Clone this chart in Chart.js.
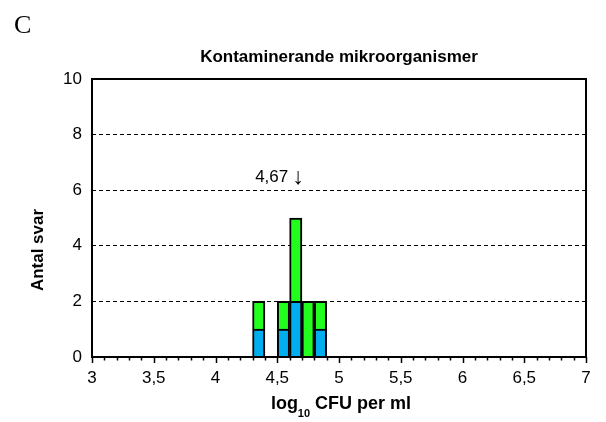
<!DOCTYPE html>
<html>
<head>
<meta charset="utf-8">
<script src="https://cdn.jsdelivr.net/npm/chart.js@4/dist/chart.umd.min.js"></script>
<style>
  html, body { margin: 0; padding: 0; background: #fff; }
  #wrap { width: 606px; height: 422px; position: relative; }
</style>
</head>
<body>
<div id="wrap"><canvas id="histChart" width="606" height="422"></canvas></div>
<script>
/* histogram data, bins of 0.1 log units */
const binCenters = [4.35, 4.55, 4.65, 4.75, 4.85];
const blueCounts = [1, 1, 2, 0, 1];
const greenCounts = [1, 1, 3, 2, 1];

const panelLetter = "C";
const chartTitle = "Kontaminerande mikroorganismer";
const yTitle = "Antal svar";
const medianValue = 4.67;
const medianLabel = "4,67";

const FONT = "Arial, 'Liberation Sans', sans-serif";

function toPoints(values) {
    return binCenters.map((x, i) => ({ x: x, y: values[i] }));
}

// frame, x tick marks, titles and the median note
const decorations = {
    id: "decorations",
    afterDraw(chart) {
        const ctx = chart.ctx;
        const area = chart.chartArea;
        const xs = chart.scales.x;
        const ys = chart.scales.y;
        ctx.save();

        // frame
        ctx.strokeStyle = "#000";
        ctx.lineWidth = 2;
        ctx.strokeRect(area.left, area.top, area.right - area.left, area.bottom - area.top);

        // x tick marks (major every 0.5, minor every 0.1)
        ctx.lineWidth = 1.5;
        xs.ticks.forEach(t => {
            const px = Math.round(xs.getPixelForValue(t.value)) + 0.5;
            const major = Math.abs(t.value * 2 - Math.round(t.value * 2)) < 1e-6;
            ctx.beginPath();
            ctx.moveTo(px, area.bottom);
            ctx.lineTo(px, area.bottom + (major ? 6 : 3.5));
            ctx.stroke();
        });

        ctx.fillStyle = "#000";

        // panel letter
        ctx.font = "26px 'Liberation Serif', 'Times New Roman', serif";
        ctx.textAlign = "left";
        ctx.textBaseline = "alphabetic";
        ctx.fillText(panelLetter, 14, 33);

        // chart title
        ctx.font = "bold 17px " + FONT;
        ctx.textAlign = "center";
        ctx.fillText(chartTitle, (area.left + area.right) / 2, 62);

        // y title
        ctx.save();
        ctx.translate(43, 250);
        ctx.rotate(-Math.PI / 2);
        ctx.font = "bold 17px " + FONT;
        ctx.textAlign = "center";
        ctx.fillText(yTitle, 0, 0);
        ctx.restore();

        // x title with subscript
        const parts = [
            { text: "log", font: "bold 18px " + FONT, dy: 0 },
            { text: "10", font: "bold 11px " + FONT, dy: 8 },
            { text: " CFU per ml", font: "bold 18px " + FONT, dy: 0 }
        ];
        let total = 0;
        parts.forEach(p => { ctx.font = p.font; p.w = ctx.measureText(p.text).width; total += p.w; });
        let cx = (area.left + area.right) / 2 + 2 - total / 2;
        ctx.textAlign = "left";
        parts.forEach(p => {
            ctx.font = p.font;
            ctx.fillText(p.text, cx, 409 + p.dy);
            cx += p.w;
        });

        // median note
        const mx = xs.getPixelForValue(medianValue);
        const my = ys.getPixelForValue(6.45);
        ctx.font = "17px " + FONT;
        ctx.textBaseline = "middle";
        ctx.textAlign = "right";
        ctx.fillText(medianLabel, mx - 10, my);
        ctx.textAlign = "center";
        ctx.font = "23px " + FONT;
        ctx.fillText("\u2193", mx, my);

        ctx.restore();
    }
};

const ctx = document.getElementById("histChart").getContext("2d");

new Chart(ctx, {
    type: "bar",
    data: {
        datasets: [
            {
                label: "blue",
                data: toPoints(blueCounts),
                backgroundColor: "#00AEEF",
                borderColor: "#000",
                borderWidth: c => (c.raw && c.raw.y ? 2 : 0),
                barPercentage: 1,
                categoryPercentage: 1
            },
            {
                label: "green",
                data: toPoints(greenCounts),
                backgroundColor: "#22FF1E",
                borderColor: "#000",
                borderWidth: c => (c.raw && c.raw.y ? 2 : 0),
                barPercentage: 1,
                categoryPercentage: 1
            }
        ]
    },
    options: {
        responsive: false,
        animation: false,
        devicePixelRatio: 1,
        layout: { padding: { top: 79, right: 20, left: 0, bottom: 0 } },
        plugins: {
            legend: { display: false },
            tooltip: { enabled: false },
            title: { display: false }
        },
        scales: {
            x: {
                type: "linear",
                stacked: true,
                offset: false,
                min: 3,
                max: 7,
                grid: { display: false, drawTicks: false, offset: false },
                border: { display: false },
                afterFit: s => { s.height = 65; },
                ticks: {
                    stepSize: 0.1,
                    autoSkip: false,
                    maxRotation: 0,
                    padding: 11,
                    color: "#000",
                    font: { family: FONT, size: 17 },
                    callback: v => {
                        if (Math.abs(v * 2 - Math.round(v * 2)) > 1e-6) return "";
                        return String(Math.round(v * 2) / 2).replace(".", ",");
                    }
                }
            },
            y: {
                stacked: true,
                min: 0,
                max: 10,
                grid: {
                    drawTicks: false,
                    color: c => (c.tick.value > 0 && c.tick.value < 10 ? "#000" : "rgba(0,0,0,0)"),
                    lineWidth: 1
                },
                border: { display: false, dash: [4, 3] },
                afterFit: s => { s.width = 92; },
                ticks: {
                    stepSize: 2,
                    padding: 10,
                    color: "#000",
                    font: { family: FONT, size: 17 }
                }
            }
        }
    },
    plugins: [decorations]
});
</script>
</body>
</html>
